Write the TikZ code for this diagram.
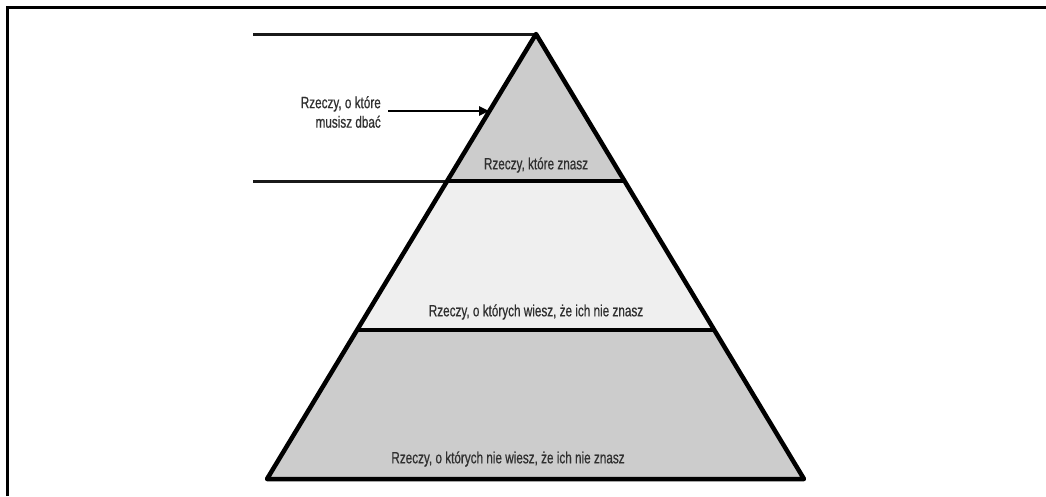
\documentclass[tikz,border=0pt]{standalone}
\usepackage{fontspec}
\setmainfont[FakeStretch=0.72,FakeBold=0.6]{Liberation Sans}
\usetikzlibrary{arrows.meta}
\definecolor{dkgray}{HTML}{CCCCCC}
\definecolor{ltgray}{HTML}{EFEFEF}
\definecolor{txt}{HTML}{303030}
\tikzset{
  outline/.style={line width=4.5pt, line join=round, draw=black},
  guide/.style={line width=3pt, draw=black!90},
  lbl/.style={font=\fontsize{16.3}{19.5}\selectfont, text=txt, inner sep=0pt},
}
\begin{document}
\begin{tikzpicture}[x=1pt,y=-1pt]
\useasboundingbox (0,0) rectangle (1046,496);
% frame
\draw[line width=3pt] (7.5,496) -- (7.5,7.5) -- (1046,7.5);
% pyramid coordinates
\coordinate (apex) at (536,34);
\coordinate (l1) at (447,181);
\coordinate (r1) at (624,181);
\coordinate (l2) at (358,330);
\coordinate (r2) at (713,330);
\coordinate (bl) at (267,479);
\coordinate (br) at (804,479);
\coordinate (g1) at (253,34);
\coordinate (g2) at (253,181);
% fills
\fill[dkgray] (apex) -- (l1) -- (r1) -- cycle;
\fill[ltgray] (l1) -- (r1) -- (r2) -- (l2) -- cycle;
\fill[dkgray] (l2) -- (r2) -- (br) -- (bl) -- cycle;
% guide lines
\draw[guide] (g1) -- (apex);
\draw[guide] (g2) -- (l1);
% outline
\draw[outline] (apex) -- (br) -- (bl) -- cycle;
\draw[outline] (l1) -- (r1);
\draw[outline] (l2) -- (r2);
% labels
\node[lbl, align=right, anchor=east] (care) at (381,112) {Rzeczy, o które\\musisz dbać};
\coordinate (tip) at (489,111);
\draw[line width=2.4pt, -{Triangle[length=10pt,width=9pt]}] (care.east |- tip) ++(7,0) -- (tip);
\node[lbl] (known) at (536,165) {Rzeczy, które znasz};
\node[lbl] (kunk) at (536,312) {Rzeczy, o których wiesz, że ich nie znasz};
\node[lbl] (uunk) at (508,459) {Rzeczy, o których nie wiesz, że ich nie znasz};
\end{tikzpicture}
\end{document}
